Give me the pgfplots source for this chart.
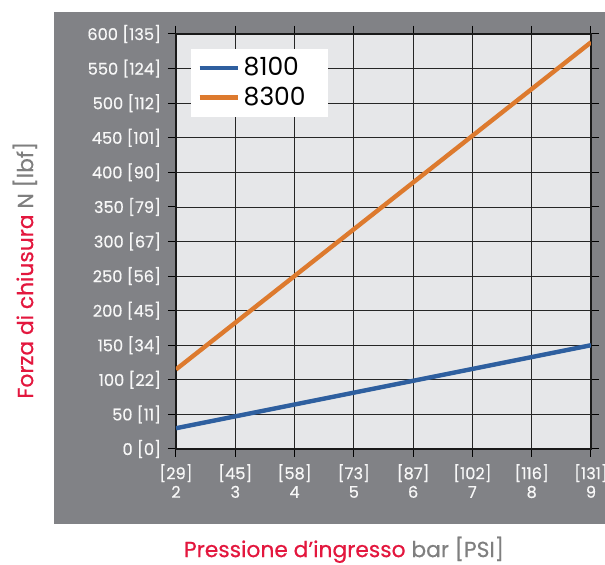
\documentclass[border=0pt]{standalone}
\usepackage{fontspec}
\setmainfont{Poppins}
\newfontfamily\medfont{Poppins}[FakeBold=0.5]
\usepackage{pgfplots}
\pgfplotsset{compat=1.18}
\definecolor{panel}{HTML}{818286}
\definecolor{plotbg}{HTML}{E6E7E9}
\definecolor{blu}{HTML}{2E5F9F}
\definecolor{ora}{HTML}{DD7A2E}
\definecolor{rosso}{HTML}{E3173E}
\definecolor{grigio}{HTML}{7F7F7F}
\definecolor{tickc}{HTML}{F7F7F7}
\begin{document}
\begin{tikzpicture}
\useasboundingbox (-88pt,-58pt) rectangle (214.5pt,224.5pt);
\fill[panel] (-61pt,-37.5pt) rectangle (214.5pt,218.5pt);
\begin{axis}[
    at={(0pt,0pt)}, anchor=south west,
    scale only axis,
    width=207.5pt, height=207.5pt,
    xmin=2, xmax=9, ymin=0, ymax=600,
    xtick={2,3,4,5,6,7,8,9},
    ytick={0,50,...,600},
    xticklabels={{[29]\\2},{[45]\\3},{[58]\\4},{[73]\\5},{[87]\\6},{[102]\\7},{[116]\\8},{[131]\\9}},
    yticklabels={0 [0],50 [11],100 [22],150 [34],200 [45],250 [56],300 [67],350 [79],400 [90],450 [101],500 [112],550 [124],600 [135]},
    /pgf/number format/assume math mode=true,
    tick label style={text=tickc, font=\medfont\fontsize{8.1}{9.3}\selectfont},
    xticklabel style={align=center},
    tick align=outside,
    major tick length=4pt,
    tick style={black, line width=0.5pt},
    grid=major,
    grid style={black!85, line width=0.4pt},
    axis line style={black!90, line width=1.1pt},
    axis background/.style={fill=plotbg},
    xlabel={\textcolor{rosso}{Pressione d’ingresso} \textcolor{grigio}{bar [PSI]}},
    ylabel={\textcolor{rosso}{Forza di chiusura} \textcolor{grigio}{N [lbf]}},
    label style={font=\medfont\fontsize{10.9}{13}\selectfont},
    xlabel style={at={(axis description cs:0.405,-0.243)}, anchor=center},
    ylabel style={at={(axis description cs:-0.364,0.431)}, anchor=center, rotate=0},
    legend style={at={(0.036,0.966)}, anchor=north west, draw=none, fill=white,
        font=\fontsize{12.5}{14.5}\selectfont, inner xsep=3pt, inner ysep=2.5pt,
        row sep=0pt},
    legend cell align=left,
    legend image code/.code={\draw[#1, line width=2.2pt] (0pt,0pt) -- (19pt,0pt);},
]
\addplot[blu, line width=2.2pt] coordinates {(2,30) (9,150)};
\addplot[ora, line width=2.2pt] coordinates {(2,115) (9,588)};
\legend{8100\rule{6pt}{0pt}, 8300\rule{6pt}{0pt}}
\end{axis}
\end{tikzpicture}
\end{document}
